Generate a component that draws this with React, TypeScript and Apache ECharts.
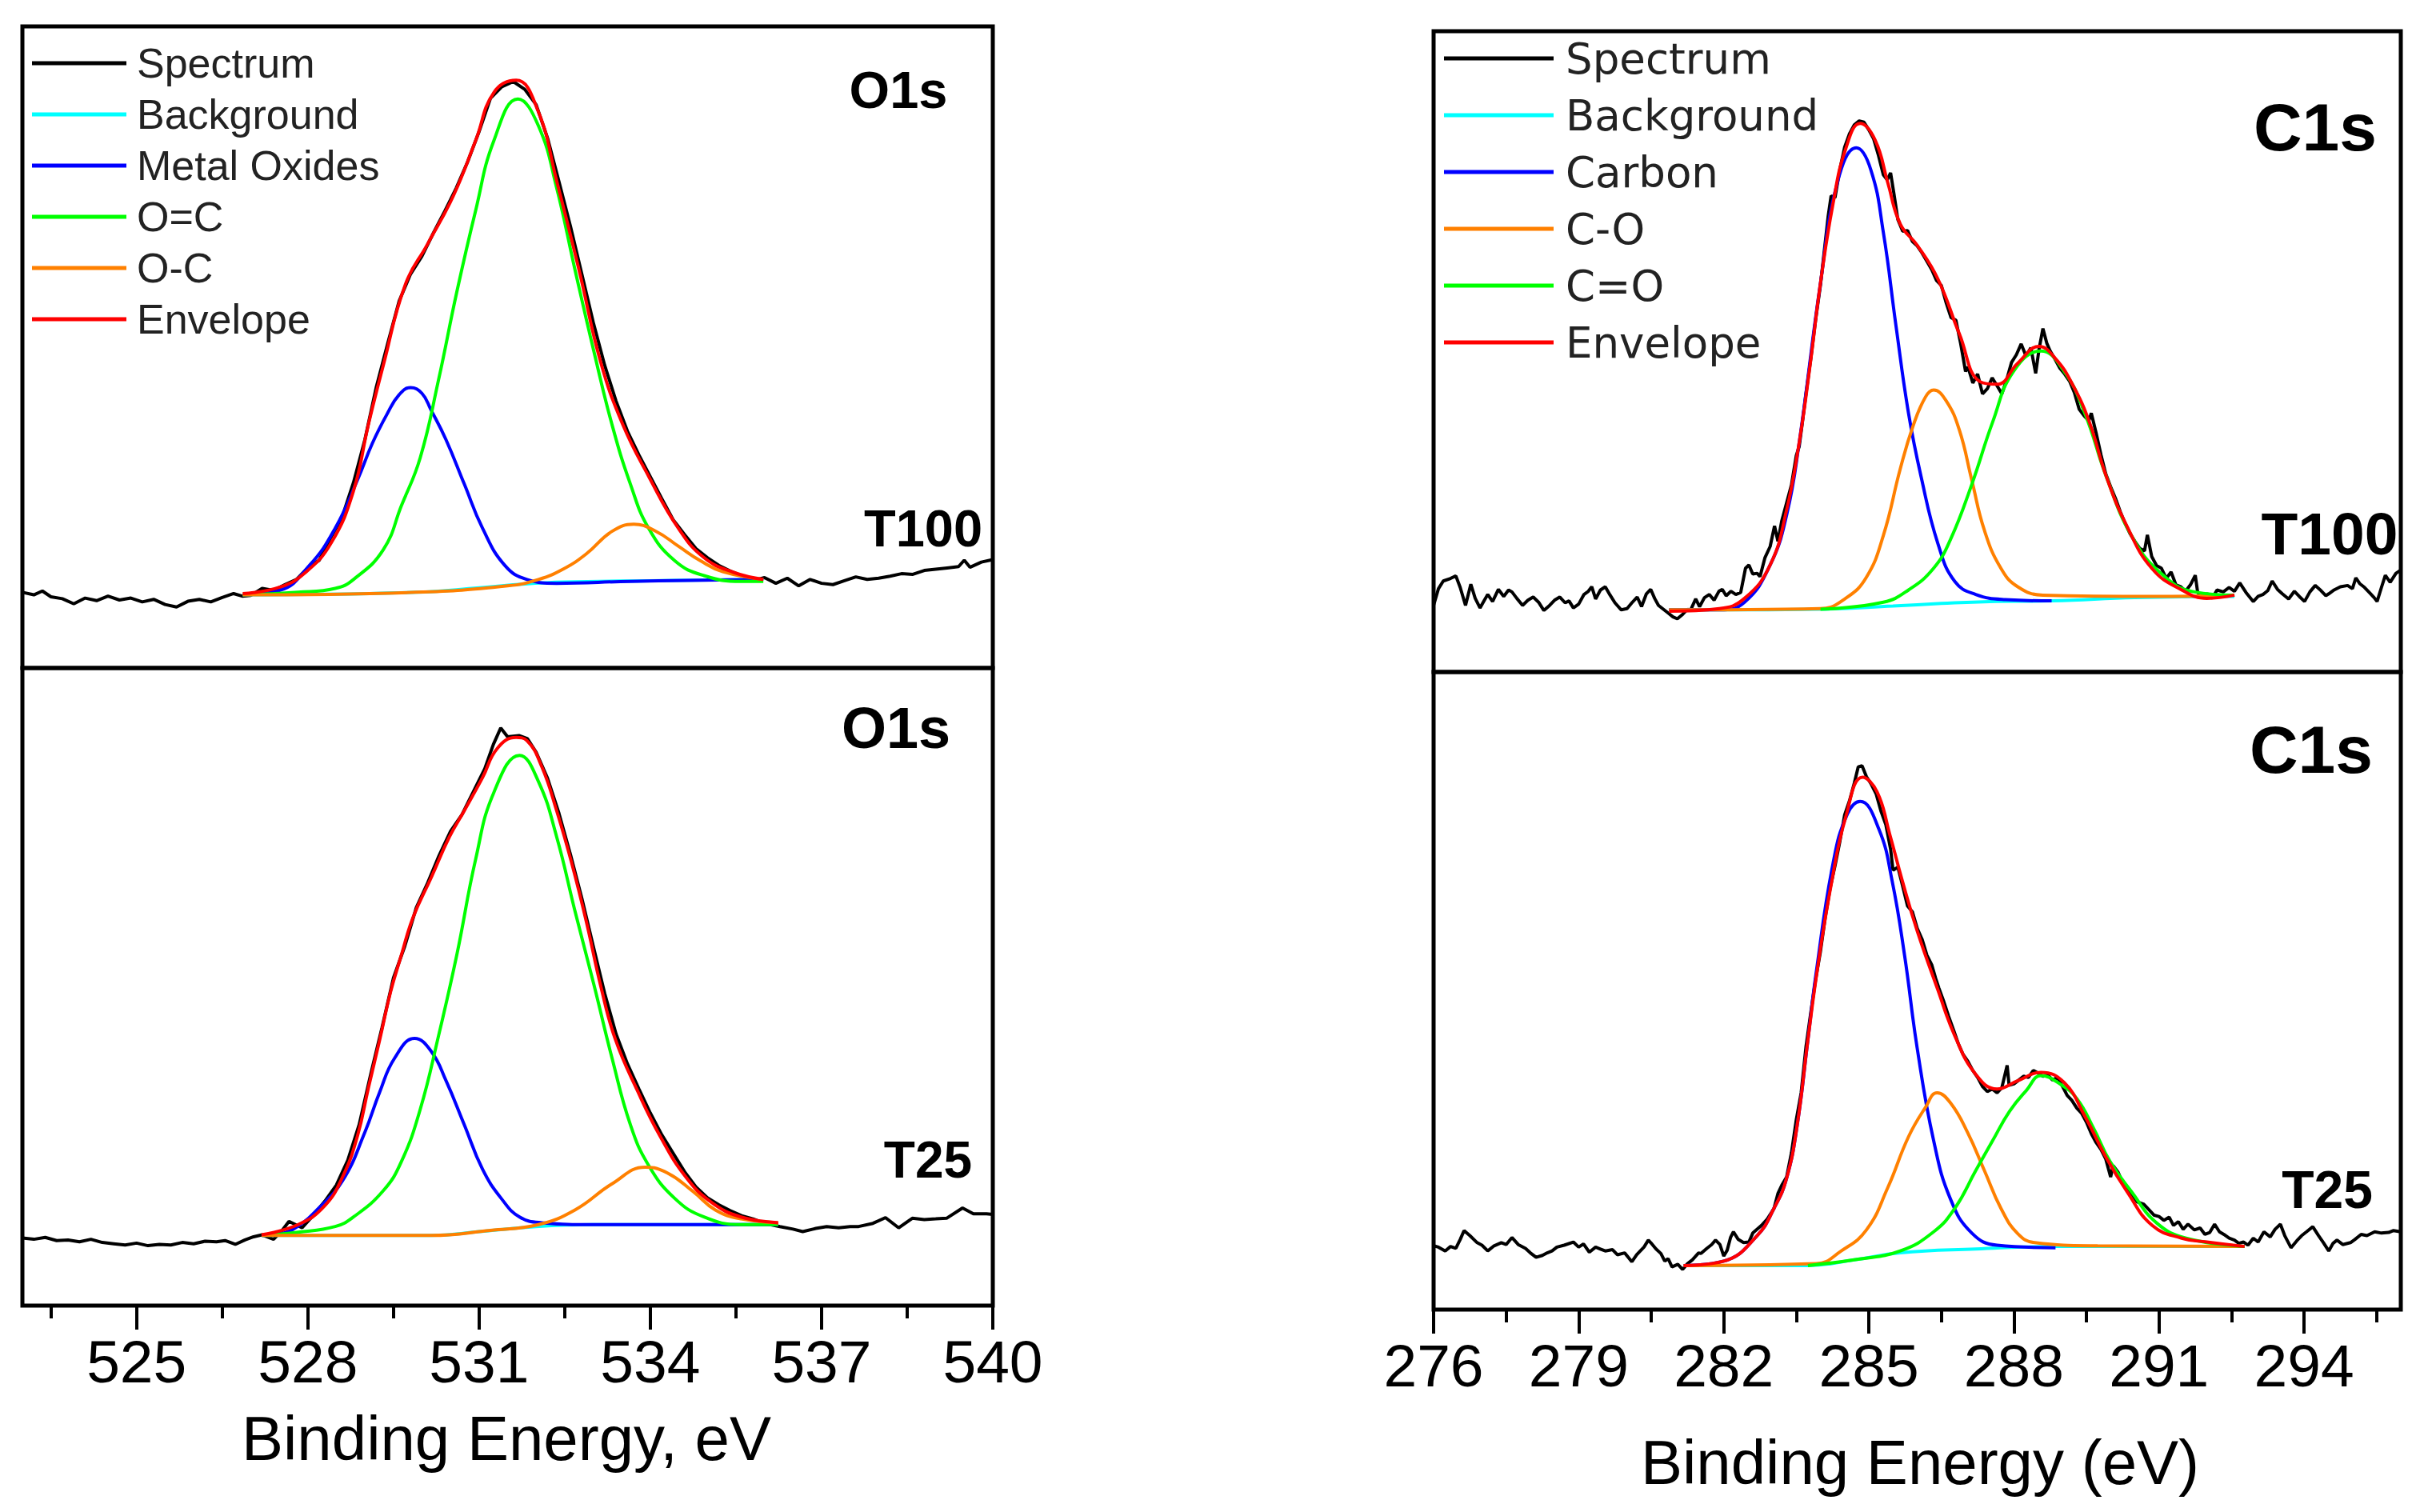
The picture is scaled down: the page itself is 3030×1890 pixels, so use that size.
import { useEffect, useRef } from "react";
import * as echarts from "echarts/core";
import { LineChart } from "echarts/charts";
import { GridComponent, LegendComponent, GraphicComponent } from "echarts/components";
import { SVGRenderer } from "echarts/renderers";

echarts.use([LineChart, GridComponent, LegendComponent, GraphicComponent, SVGRenderer]);

// binding energy ranges and tick values
const o1sRange = [523, 540];
const o1sTicks = [525, 528, 531, 534, 537, 540];
const o1sMinorTicks = [523.5, 526.5, 529.5, 532.5, 535.5, 538.5];
const c1sRange = [276, 296];
const c1sTicks = [276, 279, 282, 285, 288, 291, 294];
const c1sMinorTicks = [277.5, 280.5, 283.5, 286.5, 289.5, 292.5, 295.5];

const o1sLegend = ["Spectrum", "Background", "Metal Oxides", "O=C", "O-C", "Envelope"];
const c1sLegend = ["Spectrum", "Background", "Carbon", "C-O", "C=O", "Envelope"];

// ---- O1s, T100 (intensity in arbitrary units, 0-100 per panel)
const o1sT100Spectrum = [
  [523.0, 11.8], [523.2, 11.4], [523.35, 12.0], [523.5, 11.1], [523.7, 10.8], [523.9, 10.0], [524.1, 10.9],
  [524.3, 10.5], [524.5, 11.2], [524.7, 10.6], [524.9, 10.9], [525.1, 10.3], [525.3, 10.7], [525.5, 9.9],
  [525.7, 9.5], [525.9, 10.4], [526.1, 10.7], [526.3, 10.3], [526.5, 11.0], [526.7, 11.6], [526.85, 11.2],
  [527.0, 11.3], [527.2, 12.4], [527.4, 12.1], [527.6, 13.0], [527.8, 13.8], [528.0, 15.6], [528.2, 16.8],
  [528.4, 20.3], [528.6, 23.5], [528.8, 28.9], [529.0, 35.6], [529.2, 43.8], [529.4, 50.6], [529.6, 57.2],
  [529.8, 61.4], [530.0, 64.2], [530.2, 67.8], [530.4, 71.2], [530.6, 74.8], [530.8, 78.9], [531.0, 83.6],
  [531.2, 88.8], [531.4, 90.6], [531.6, 91.4], [531.8, 90.2], [532.0, 87.8], [532.2, 82.6], [532.4, 75.8],
  [532.6, 68.9], [532.8, 61.4], [533.0, 53.9], [533.2, 47.2], [533.4, 41.6], [533.6, 36.9], [533.8, 33.2],
  [534.0, 29.8], [534.2, 26.4], [534.4, 23.1], [534.6, 20.8], [534.8, 18.6], [535.0, 17.2], [535.2, 16.0],
  [535.4, 15.1], [535.6, 14.4], [535.8, 13.6], [536.0, 14.1], [536.2, 13.2], [536.4, 14.0], [536.6, 12.8],
  [536.8, 13.8], [537.0, 13.2], [537.2, 13.0], [537.4, 13.6], [537.6, 14.2], [537.8, 13.8], [538.0, 14.0],
  [538.2, 14.3], [538.4, 14.7], [538.6, 14.6], [538.8, 15.2], [539.0, 15.4], [539.2, 15.6], [539.4, 15.8],
  [539.5, 16.8], [539.6, 15.7], [539.8, 16.5], [540.0, 16.9],
];
const o1sT100Background = [
  [526.86, 11.4], [529.9, 11.8], [531.0, 12.5], [531.8, 13.1], [532.5, 13.4], [534.0, 13.6], [535.98, 13.8],
];
const o1sT100MetalOxides = [
  [526.86, 11.4], [527.51, 12.1], [528.03, 16.0], [528.48, 21.8], [528.87, 29.3], [529.13, 35.0],
  [529.39, 39.6], [529.6, 42.6], [529.8, 43.7], [530.0, 42.8], [530.16, 40.2], [530.42, 35.6],
  [530.74, 28.7], [531.06, 21.8], [531.45, 16.0], [531.84, 13.8], [532.36, 13.2], [533.65, 13.5],
  [535.98, 13.8],
];
const o1sT100OdoubleC = [
  [526.86, 11.4], [527.83, 11.8], [528.48, 12.4], [528.8, 13.8], [529.32, 18.4], [529.64, 25.3],
  [529.97, 32.8], [530.29, 44.9], [530.61, 58.6], [530.94, 71.3], [531.26, 82.2], [531.68, 88.7],
  [532.04, 84.5], [532.36, 74.8], [532.68, 62.1], [533.01, 49.4], [533.33, 37.9], [533.65, 28.7],
  [533.97, 21.8], [534.43, 16.7], [534.94, 14.4], [535.59, 13.5], [535.98, 13.5],
];
const o1sT100OsingleC = [
  [526.86, 11.4], [529.89, 11.8], [531.5, 12.8], [532.04, 13.8], [532.49, 15.5], [532.88, 17.8],
  [533.33, 21.3], [533.71, 22.4], [534.1, 21.3], [534.49, 19.0], [534.88, 16.7], [535.27, 15.0],
  [535.98, 13.8],
];
const o1sT100Envelope = [
  [526.86, 11.6], [527.51, 12.6], [527.96, 14.9], [528.41, 19.5], [528.8, 27.6], [529.06, 37.9],
  [529.32, 47.1], [529.71, 59.8], [530.1, 66.1], [530.55, 73.6], [530.94, 82.2], [531.26, 89.7],
  [531.65, 91.6], [532.03, 86.9], [532.36, 75.9], [532.75, 62.1], [533.13, 47.7], [533.52, 37.9],
  [533.97, 29.9], [534.49, 21.8], [534.94, 17.2], [535.46, 14.9], [535.98, 13.8],
];

// ---- O1s, T25
const o1sT25Spectrum = [
  [523.0, 10.6], [523.2, 10.4], [523.4, 10.7], [523.6, 10.2], [523.8, 10.3], [524.0, 10.0], [524.2, 10.4],
  [524.4, 9.9], [524.6, 9.7], [524.8, 9.5], [525.0, 9.8], [525.2, 9.4], [525.4, 9.6], [525.6, 9.5],
  [525.8, 9.9], [526.0, 9.7], [526.2, 10.1], [526.4, 10.0], [526.55, 10.2], [526.73, 9.6], [526.9, 10.3],
  [527.05, 10.8], [527.2, 11.1], [527.4, 10.4], [527.55, 11.8], [527.67, 13.2], [527.9, 12.2], [528.1, 14.2],
  [528.3, 16.4], [528.5, 18.9], [528.7, 22.8], [528.9, 28.4], [529.1, 36.2], [529.3, 43.6], [529.5, 51.4],
  [529.7, 56.4], [529.9, 62.4], [530.1, 66.3], [530.3, 70.6], [530.5, 74.4], [530.7, 77.0], [530.9, 80.6],
  [531.1, 84.2], [531.25, 88.0], [531.38, 90.6], [531.5, 89.2], [531.7, 89.4], [531.85, 88.9], [532.0, 86.8],
  [532.2, 82.7], [532.4, 77.2], [532.6, 70.8], [532.8, 63.9], [533.0, 56.4], [533.2, 49.0], [533.4, 42.6],
  [533.6, 37.9], [533.8, 34.0], [534.0, 30.2], [534.2, 26.8], [534.4, 23.9], [534.6, 21.0], [534.8, 18.6],
  [535.0, 16.9], [535.2, 15.8], [535.4, 14.9], [535.6, 14.1], [535.8, 13.6], [536.0, 12.9], [536.27, 12.4],
  [536.5, 12.0], [536.67, 11.6], [536.9, 12.1], [537.09, 12.4], [537.3, 12.2], [537.5, 12.4], [537.65, 12.4],
  [537.9, 12.9], [538.12, 13.8], [538.35, 12.2], [538.59, 13.7], [538.8, 13.5], [539.0, 13.6], [539.19, 13.7],
  [539.47, 15.3], [539.66, 14.4], [539.89, 14.4], [540.0, 14.3],
];
const o1sT25Background = [
  [527.19, 11.0], [530.16, 11.0], [531.0, 11.6], [532.0, 12.4], [533.0, 12.7], [536.24, 12.7],
];
const o1sT25MetalOxides = [
  [527.19, 11.0], [527.58, 11.4], [527.85, 12.6], [528.16, 15.0], [528.61, 19.6], [529.0, 27.2],
  [529.26, 33.5], [529.52, 38.8], [529.87, 41.9], [530.16, 39.9], [530.42, 35.3], [530.74, 28.4],
  [531.06, 21.4], [531.39, 16.8], [531.71, 13.9], [532.1, 13.0], [533.01, 12.7], [536.24, 12.7],
];
const o1sT25OdoubleC = [
  [527.19, 11.0], [527.83, 11.5], [528.48, 12.4], [528.8, 13.9], [529.32, 18.0], [529.64, 22.6],
  [529.97, 30.8], [530.29, 42.3], [530.61, 55.0], [530.94, 70.0], [531.26, 80.5], [531.71, 86.3],
  [532.04, 82.2], [532.36, 73.5], [532.68, 61.9], [533.01, 50.4], [533.33, 38.8], [533.65, 28.4],
  [533.97, 22.0], [534.43, 16.8], [534.94, 13.9], [535.59, 12.7], [536.24, 12.7],
];
const o1sT25OsingleC = [
  [527.19, 11.0], [530.16, 11.0], [531.2, 11.8], [532.04, 12.7], [532.68, 15.0], [533.33, 19.1],
  [533.91, 21.7], [534.3, 20.8], [534.75, 17.9], [535.14, 15.0], [535.59, 13.6], [536.24, 13.0],
];
const o1sT25Envelope = [
  [527.19, 11.1], [527.83, 12.7], [528.29, 15.6], [528.61, 20.2], [528.87, 26.6], [529.06, 34.1],
  [529.26, 41.7], [529.45, 49.2], [529.64, 55.0], [529.84, 60.8], [530.16, 67.1], [530.48, 73.5],
  [530.74, 77.6], [531.06, 82.8], [531.32, 87.4], [531.65, 89.1], [531.84, 88.6], [532.1, 84.5],
  [532.36, 77.6], [532.62, 69.5], [532.88, 60.2], [533.14, 49.8], [533.39, 41.7], [533.78, 33.6],
  [534.17, 26.6], [534.62, 20.2], [535.07, 16.2], [535.59, 13.9], [536.24, 13.0],
];

// ---- C1s, T100
const c1sT100Spectrum = [
  [276.0, 10.4], [276.1, 13.0], [276.2, 14.2], [276.35, 14.6], [276.46, 15.0], [276.55, 13.2], [276.66, 10.4],
  [276.77, 13.7], [276.86, 11.5], [276.96, 10.0], [277.05, 11.2], [277.12, 12.1], [277.22, 11.0], [277.34, 12.9],
  [277.45, 11.8], [277.55, 12.8], [277.62, 12.5], [277.72, 11.5], [277.84, 10.4], [277.95, 11.2], [278.06, 11.7],
  [278.17, 10.9], [278.28, 9.6], [278.4, 10.4], [278.5, 11.2], [278.61, 11.7], [278.72, 10.8], [278.8, 11.1],
  [278.89, 10.0], [279.0, 10.6], [279.11, 12.1], [279.2, 12.6], [279.27, 13.3], [279.35, 11.4], [279.45, 12.8],
  [279.55, 13.3], [279.65, 12.0], [279.75, 10.8], [279.88, 9.7], [280.0, 9.9], [280.1, 10.8], [280.21, 11.7],
  [280.3, 10.2], [280.4, 12.2], [280.49, 12.9], [280.57, 11.5], [280.65, 10.4], [280.75, 9.8], [280.85, 9.2],
  [280.95, 8.6], [281.04, 8.3], [281.15, 9.0], [281.25, 9.8], [281.31, 9.6], [281.42, 11.4], [281.5, 10.2],
  [281.6, 11.6], [281.7, 12.1], [281.8, 11.2], [281.9, 12.6], [281.97, 12.9], [282.05, 11.9], [282.15, 12.6],
  [282.25, 12.1], [282.35, 12.4], [282.45, 16.2], [282.52, 16.7], [282.6, 15.3], [282.69, 15.4], [282.75, 14.9],
  [282.85, 17.8], [282.96, 19.6], [283.05, 22.8], [283.12, 20.4], [283.2, 23.6], [283.3, 26.4], [283.4, 29.2],
  [283.5, 33.8], [283.56, 35.2], [283.62, 38.6], [283.7, 43.4], [283.8, 48.9], [283.9, 55.0], [284.0, 60.4],
  [284.08, 65.8], [284.16, 71.2], [284.22, 74.3], [284.3, 74.0], [284.4, 78.4], [284.5, 81.9], [284.6, 84.0],
  [284.7, 85.4], [284.8, 86.0], [284.9, 85.8], [285.0, 84.6], [285.1, 83.2], [285.2, 80.6], [285.3, 77.6],
  [285.38, 76.8], [285.45, 77.9], [285.52, 74.6], [285.6, 70.6], [285.7, 68.8], [285.8, 68.9], [285.9, 67.2],
  [286.0, 66.5], [286.1, 65.4], [286.2, 64.1], [286.3, 62.8], [286.4, 61.1], [286.5, 60.3], [286.6, 57.6],
  [286.7, 55.3], [286.8, 54.9], [286.9, 51.2], [287.0, 46.9], [287.05, 47.6], [287.15, 45.1], [287.25, 46.5],
  [287.35, 43.4], [287.45, 44.2], [287.55, 45.9], [287.65, 44.7], [287.75, 43.4], [287.85, 45.6], [287.95, 48.3],
  [288.05, 49.5], [288.15, 51.2], [288.25, 49.3], [288.35, 50.6], [288.45, 46.6], [288.52, 50.4], [288.6, 53.6],
  [288.68, 51.3], [288.75, 50.1], [288.85, 48.8], [288.95, 47.4], [289.05, 46.5], [289.15, 45.4], [289.25, 43.6],
  [289.35, 41.0], [289.45, 40.0], [289.55, 39.2], [289.6, 40.4], [289.7, 37.3], [289.8, 33.9], [289.9, 30.9],
  [290.0, 28.9], [290.1, 27.1], [290.2, 25.0], [290.3, 23.2], [290.4, 21.6], [290.5, 20.4], [290.6, 19.3],
  [290.7, 18.9], [290.76, 21.4], [290.85, 18.0], [290.95, 16.6], [291.05, 16.2], [291.15, 14.6], [291.25, 15.6],
  [291.35, 13.6], [291.45, 13.3], [291.55, 12.6], [291.65, 13.6], [291.75, 15.1], [291.8, 12.4], [291.9, 11.8],
  [292.0, 12.2], [292.1, 11.5], [292.2, 12.8], [292.33, 12.5], [292.45, 13.2], [292.56, 12.6], [292.67, 13.9],
  [292.8, 12.4], [292.95, 11.0], [293.05, 11.8], [293.15, 12.1], [293.25, 12.7], [293.34, 14.2], [293.45, 12.9],
  [293.55, 12.2], [293.68, 11.4], [293.8, 12.6], [293.9, 11.8], [294.01, 11.0], [294.12, 12.5], [294.23, 13.5],
  [294.35, 12.7], [294.45, 11.9], [294.51, 12.2], [294.62, 12.8], [294.75, 13.3], [294.9, 13.5], [295.0, 13.0],
  [295.07, 14.7], [295.15, 13.8], [295.25, 13.2], [295.35, 12.4], [295.45, 11.6], [295.51, 11.0], [295.6, 13.2],
  [295.68, 15.1], [295.78, 14.0], [295.9, 15.4], [296.0, 15.9],
];
const c1sT100Background = [
  [280.87, 9.7], [282.5, 9.7], [284.0, 9.8], [285.5, 10.3], [286.5, 10.7], [287.5, 11.0], [288.8, 11.1],
  [290.5, 11.6], [292.56, 11.8],
];
const c1sT100Carbon = [
  [280.87, 9.7], [281.91, 9.7], [282.43, 10.9], [282.96, 16.7], [283.3, 24.5], [283.56, 35.8], [284.0, 60.7],
  [284.35, 76.4], [284.74, 81.8], [285.04, 78.4], [285.3, 68.6], [285.56, 54.1], [285.82, 40.4], [286.08, 30.5],
  [286.43, 20.0], [286.78, 14.1], [287.21, 12.1], [287.82, 11.3], [288.78, 11.1],
];
const c1sT100CsingleO = [
  [280.87, 9.7], [284.0, 9.9], [284.52, 11.5], [284.95, 14.8], [285.3, 21.3], [285.65, 31.7], [285.91, 38.3],
  [286.17, 42.9], [286.34, 44.0], [286.6, 42.3], [286.87, 37.8], [287.13, 29.9], [287.39, 22.1], [287.73, 16.2],
  [288.08, 13.3], [288.6, 12.0], [290.86, 11.8], [292.56, 12.0],
];
const c1sT100CdoubleO = [
  [284.0, 9.8], [285.3, 10.9], [285.82, 12.8], [286.34, 16.2], [286.69, 20.7], [287.13, 29.3], [287.56, 39.0],
  [287.99, 46.9], [288.56, 50.1], [289.04, 46.9], [289.47, 40.3], [289.91, 30.5], [290.43, 21.3], [291.04, 15.4],
  [291.73, 12.5], [292.56, 12.0],
];
const c1sT100Envelope = [
  [280.87, 9.5], [281.91, 9.9], [282.43, 11.5], [282.96, 16.7], [283.3, 25.3], [283.56, 35.8], [283.78, 47.6],
  [284.0, 60.7], [284.26, 73.1], [284.52, 81.6], [284.82, 85.6], [285.13, 83.0], [285.39, 76.4], [285.65, 69.9],
  [286.0, 66.6], [286.43, 61.3], [286.87, 52.8], [287.3, 45.3], [287.65, 44.9], [288.08, 48.2], [288.52, 50.8],
  [288.86, 48.9], [289.21, 44.9], [289.56, 39.0], [289.91, 30.5], [290.34, 22.7], [290.86, 16.1], [291.47, 12.8],
  [291.99, 11.5], [292.56, 12.0],
];

// ---- C1s, T25
const c1sT25Spectrum = [
  [276.0, 10.0], [276.1, 9.8], [276.24, 9.2], [276.35, 9.9], [276.46, 9.6], [276.55, 11.0], [276.63, 12.4],
  [276.75, 11.6], [276.9, 10.5], [277.0, 10.1], [277.12, 9.2], [277.25, 10.0], [277.4, 10.5], [277.5, 10.2],
  [277.62, 11.3], [277.75, 10.2], [277.9, 9.6], [278.0, 8.9], [278.12, 8.2], [278.25, 8.5], [278.35, 8.9],
  [278.45, 9.2], [278.55, 9.8], [278.7, 10.1], [278.89, 10.6], [279.0, 9.8], [279.1, 10.3], [279.22, 9.0],
  [279.35, 9.8], [279.45, 9.5], [279.55, 9.2], [279.7, 9.4], [279.8, 8.6], [279.95, 8.9], [280.1, 7.5],
  [280.2, 8.6], [280.35, 9.8], [280.44, 10.9], [280.49, 10.5], [280.6, 9.5], [280.7, 8.8], [280.78, 7.6],
  [280.85, 8.0], [280.93, 6.7], [281.05, 7.1], [281.15, 6.3], [281.25, 7.2], [281.35, 7.8], [281.48, 8.9],
  [281.53, 8.8], [281.65, 9.6], [281.75, 10.2], [281.83, 10.9], [281.92, 10.2], [282.0, 8.4], [282.07, 9.3],
  [282.14, 11.3], [282.2, 12.2], [282.3, 11.0], [282.41, 10.5], [282.52, 10.6], [282.6, 12.0], [282.69, 12.6],
  [282.78, 13.2], [282.9, 14.2], [283.0, 15.4], [283.04, 15.9], [283.12, 18.2], [283.2, 19.5], [283.3, 20.8],
  [283.4, 24.6], [283.5, 29.8], [283.6, 34.0], [283.7, 41.2], [283.8, 46.6], [283.9, 51.8], [284.0, 56.2],
  [284.1, 61.6], [284.2, 66.1], [284.3, 69.6], [284.4, 73.4], [284.5, 77.6], [284.6, 79.8], [284.7, 82.6],
  [284.78, 85.1], [284.86, 85.3], [284.95, 83.6], [285.05, 82.4], [285.15, 80.9], [285.25, 78.2], [285.35, 76.1],
  [285.45, 72.2], [285.5, 68.9], [285.6, 69.4], [285.7, 66.4], [285.8, 63.3], [285.9, 62.4], [286.0, 59.8],
  [286.1, 58.1], [286.2, 55.6], [286.3, 54.1], [286.38, 52.0], [286.45, 50.4], [286.55, 48.3], [286.65, 46.0],
  [286.75, 43.9], [286.85, 41.7], [286.95, 40.0], [287.05, 38.9], [287.15, 37.5], [287.25, 36.4], [287.35, 35.0],
  [287.45, 34.2], [287.55, 34.6], [287.65, 34.0], [287.75, 34.8], [287.86, 38.3], [287.9, 35.2], [288.0, 35.4],
  [288.1, 36.0], [288.2, 36.6], [288.3, 36.4], [288.4, 37.5], [288.5, 37.1], [288.6, 36.6], [288.7, 36.8],
  [288.8, 36.0], [288.9, 36.4], [289.0, 35.1], [289.1, 33.6], [289.2, 32.8], [289.3, 31.6], [289.4, 30.8],
  [289.5, 29.4], [289.6, 27.6], [289.7, 26.2], [289.8, 25.1], [289.9, 23.6], [290.0, 20.8], [290.05, 22.6],
  [290.15, 21.6], [290.25, 19.9], [290.35, 18.6], [290.45, 18.0], [290.55, 16.9], [290.69, 16.5], [290.8, 15.6],
  [290.9, 14.8], [291.0, 14.6], [291.1, 14.0], [291.21, 14.5], [291.3, 13.2], [291.4, 13.8], [291.5, 12.6],
  [291.6, 13.4], [291.73, 12.5], [291.85, 12.8], [291.95, 11.8], [292.05, 12.1], [292.15, 13.4], [292.25, 12.2],
  [292.34, 11.8], [292.45, 11.2], [292.56, 10.9], [292.65, 10.4], [292.75, 10.6], [292.84, 10.1], [292.95, 11.2],
  [293.05, 10.6], [293.17, 12.2], [293.3, 11.4], [293.4, 12.6], [293.51, 13.4], [293.6, 11.6], [293.73, 9.7],
  [293.85, 10.8], [293.95, 11.6], [294.05, 12.2], [294.18, 13.0], [294.3, 11.6], [294.4, 10.5], [294.51, 9.2],
  [294.6, 10.4], [294.68, 10.9], [294.8, 10.2], [294.96, 10.5], [295.05, 11.0], [295.18, 11.8], [295.3, 11.6],
  [295.46, 12.2], [295.6, 12.0], [295.75, 12.1], [295.85, 12.4], [296.0, 12.2],
];
const c1sT25Background = [
  [281.17, 6.9], [283.74, 6.9], [284.7, 7.8], [285.65, 8.9], [287.21, 9.5], [288.86, 9.9], [292.77, 9.9],
];
const c1sT25Carbon = [
  [281.17, 6.9], [282.0, 7.6], [282.69, 11.6], [283.04, 15.9], [283.3, 20.6], [283.52, 29.0], [283.74, 42.3],
  [283.91, 52.8], [284.26, 70.0], [284.55, 77.6], [284.82, 79.7], [285.21, 75.3], [285.48, 67.3], [285.74, 55.5],
  [286.0, 41.0], [286.34, 26.5], [286.69, 17.3], [287.13, 12.0], [287.65, 10.1], [288.86, 9.7],
];
const c1sT25CsingleO = [
  [281.17, 6.9], [283.91, 7.2], [284.43, 9.2], [284.95, 12.5], [285.39, 19.1], [285.82, 27.1], [286.17, 31.7],
  [286.41, 34.0], [286.69, 32.4], [287.04, 27.8], [287.39, 21.8], [287.73, 15.9], [288.08, 11.9], [288.43, 10.5],
  [289.73, 10.0], [292.77, 9.9],
];
const c1sT25CdoubleO = [
  [283.74, 6.9], [284.78, 7.9], [285.65, 9.2], [286.34, 12.2], [286.78, 15.9], [287.21, 21.8], [287.56, 26.5],
  [287.91, 31.1], [288.26, 34.4], [288.56, 36.7], [288.95, 35.4], [289.3, 33.1], [289.65, 28.4], [289.99, 23.2],
  [290.43, 18.5], [290.95, 13.6], [291.56, 11.2], [292.77, 9.9],
];
const c1sT25Envelope = [
  [281.17, 6.9], [282.0, 7.6], [282.69, 11.6], [283.04, 15.9], [283.3, 20.6], [283.52, 29.0], [283.74, 42.3],
  [283.95, 54.1], [284.22, 66.6], [284.52, 77.2], [284.87, 83.5], [285.17, 81.2], [285.43, 74.6], [285.69, 67.3],
  [286.0, 59.4], [286.43, 50.1], [286.78, 42.9], [287.21, 36.9], [287.65, 34.6], [288.08, 35.9], [288.56, 37.2],
  [289.04, 35.6], [289.47, 30.3], [289.91, 23.8], [290.34, 18.5], [290.86, 13.2], [291.47, 11.2], [291.99, 10.6],
  [292.77, 9.9],
];

const BLACK = "#000000";
const CYAN = "#00ffff";
const BLUE = "#0000ff";
const GREEN = "#00ff00";
const ORANGE = "#ff8000";
const RED = "#ff0000";

const line = (name: string, data: number[][], color: string, axis: number, smooth: boolean | number) => ({
  name,
  type: "line",
  xAxisIndex: axis,
  yAxisIndex: axis,
  data,
  symbol: "none",
  smooth,
  lineStyle: { color, width: 4 },
  itemStyle: { color },
});

const panelSeries = (axis: number, sets: [string, number[][], string][]) =>
  sets.map(([name, data, color]) => line(name, data, color, axis, name === "Spectrum" ? false : 0.45));

const baseX = (range: number[], gridIndex: number) => ({
  type: "value",
  gridIndex,
  min: range[0],
  max: range[1],
  position: "bottom",
  axisLine: { show: false },
  splitLine: { show: false },
  axisTick: { show: false },
  axisLabel: { show: false },
});

const labelFont = "'Liberation Sans', Arial, sans-serif";

const tag = (text: string, x: number, y: number, size: number) => ({
  type: "text",
  x,
  y,
  style: {
    text,
    fill: "#000",
    fontSize: size,
    fontWeight: "bold",
    fontFamily: labelFont,
    align: "center",
    verticalAlign: "middle",
  },
});

const title = (text: string, x: number, y: number) => ({
  type: "text",
  x,
  y,
  style: {
    text,
    fill: "#000",
    fontSize: 78,
    fontFamily: labelFont,
    align: "center",
    verticalAlign: "middle",
  },
});

const XpsFigure: React.FC = () => {
  const chartRef = useRef<HTMLDivElement>(null);

  useEffect(() => {
    if (!chartRef.current) return;
    const chart = echarts.init(chartRef.current, undefined, { renderer: "svg" });

    const gridStyle = { show: true, borderColor: "#000", borderWidth: 5, backgroundColor: "transparent" };
    const majorTicks = (values: number[]) => ({
      show: true,
      customValues: values,
      length: 30,
      lineStyle: { color: "#000", width: 4 },
    });
    const minorTicks = (values: number[]) => ({
      show: true,
      customValues: values,
      length: 16,
      lineStyle: { color: "#000", width: 4 },
    });
    const tickLabels = (values: number[]) => ({
      show: true,
      customValues: values,
      margin: 32,
      color: "#000",
      fontSize: 75,
      fontFamily: labelFont,
    });

    const option: any = {
      animation: false,
      backgroundColor: "#ffffff",
      grid: [
        { left: 28, top: 33, width: 1213, height: 802, ...gridStyle },
        { left: 28, top: 835, width: 1213, height: 797, ...gridStyle },
        { left: 1792, top: 39, width: 1209, height: 801, ...gridStyle },
        { left: 1792, top: 840, width: 1209, height: 797, ...gridStyle },
      ],
      xAxis: [
        baseX(o1sRange, 0),
        { ...baseX(o1sRange, 1), axisTick: majorTicks(o1sTicks), axisLabel: tickLabels(o1sTicks) },
        baseX(c1sRange, 2),
        { ...baseX(c1sRange, 3), axisTick: majorTicks(c1sTicks), axisLabel: tickLabels(c1sTicks) },
        { ...baseX(o1sRange, 1), axisTick: minorTicks(o1sMinorTicks) },
        { ...baseX(c1sRange, 3), axisTick: minorTicks(c1sMinorTicks) },
      ],
      yAxis: [0, 1, 2, 3].map((g) => ({ type: "value", gridIndex: g, min: 0, max: 100, show: false })),
      legend: [
        {
          data: o1sLegend,
          orient: "vertical",
          left: 40,
          top: 53,
          padding: 0,
          itemWidth: 118,
          itemHeight: 5,
          itemGap: 12,
          icon: "rect",
          selectedMode: false,
          textStyle: {
            fontSize: 52,
            lineHeight: 50,
            color: "#222",
            fontFamily: labelFont,
            padding: [0, 0, 0, 8],
          },
        },
        {
          data: c1sLegend,
          orient: "vertical",
          left: 1805,
          top: 46,
          padding: 0,
          itemWidth: 137,
          itemHeight: 5,
          itemGap: 17,
          icon: "rect",
          selectedMode: false,
          textStyle: {
            fontSize: 53,
            lineHeight: 54,
            color: "#222",
            fontFamily: "'DejaVu Sans', sans-serif",
            padding: [0, 0, 0, 10],
          },
        },
      ],
      graphic: [
        tag("O1s", 1123, 112, 65),
        tag("T100", 1154, 660, 65),
        tag("O1s", 1120, 910, 72),
        tag("T25", 1160, 1450, 64),
        tag("C1s", 2894, 159, 84),
        tag("T100", 2912, 667, 75),
        tag("C1s", 2889, 937, 84),
        tag("T25", 2909, 1487, 66),
        title("Binding Energy, eV", 633, 1798),
        title("Binding Energy (eV)", 2400, 1828),
      ],
      series: [
        ...panelSeries(0, [
          ["Spectrum", o1sT100Spectrum, BLACK],
          ["Background", o1sT100Background, CYAN],
          ["Metal Oxides", o1sT100MetalOxides, BLUE],
          ["O=C", o1sT100OdoubleC, GREEN],
          ["O-C", o1sT100OsingleC, ORANGE],
          ["Envelope", o1sT100Envelope, RED],
        ]),
        ...panelSeries(1, [
          ["Spectrum", o1sT25Spectrum, BLACK],
          ["Background", o1sT25Background, CYAN],
          ["Metal Oxides", o1sT25MetalOxides, BLUE],
          ["O=C", o1sT25OdoubleC, GREEN],
          ["O-C", o1sT25OsingleC, ORANGE],
          ["Envelope", o1sT25Envelope, RED],
        ]),
        ...panelSeries(2, [
          ["Spectrum", c1sT100Spectrum, BLACK],
          ["Background", c1sT100Background, CYAN],
          ["Carbon", c1sT100Carbon, BLUE],
          ["C-O", c1sT100CsingleO, ORANGE],
          ["C=O", c1sT100CdoubleO, GREEN],
          ["Envelope", c1sT100Envelope, RED],
        ]),
        ...panelSeries(3, [
          ["Spectrum", c1sT25Spectrum, BLACK],
          ["Background", c1sT25Background, CYAN],
          ["Carbon", c1sT25Carbon, BLUE],
          ["C-O", c1sT25CsingleO, ORANGE],
          ["C=O", c1sT25CdoubleO, GREEN],
          ["Envelope", c1sT25Envelope, RED],
        ]),
      ],
    };

    chart.setOption(option);

    return () => {
      chart.dispose();
    };
  }, []);

  return (
    <div
      ref={chartRef}
      style={{ position: "absolute", left: 0, top: 0, width: "3030px", height: "1890px", background: "#fff" }}
    />
  );
};

export default function App() {
  return <XpsFigure />;
}
